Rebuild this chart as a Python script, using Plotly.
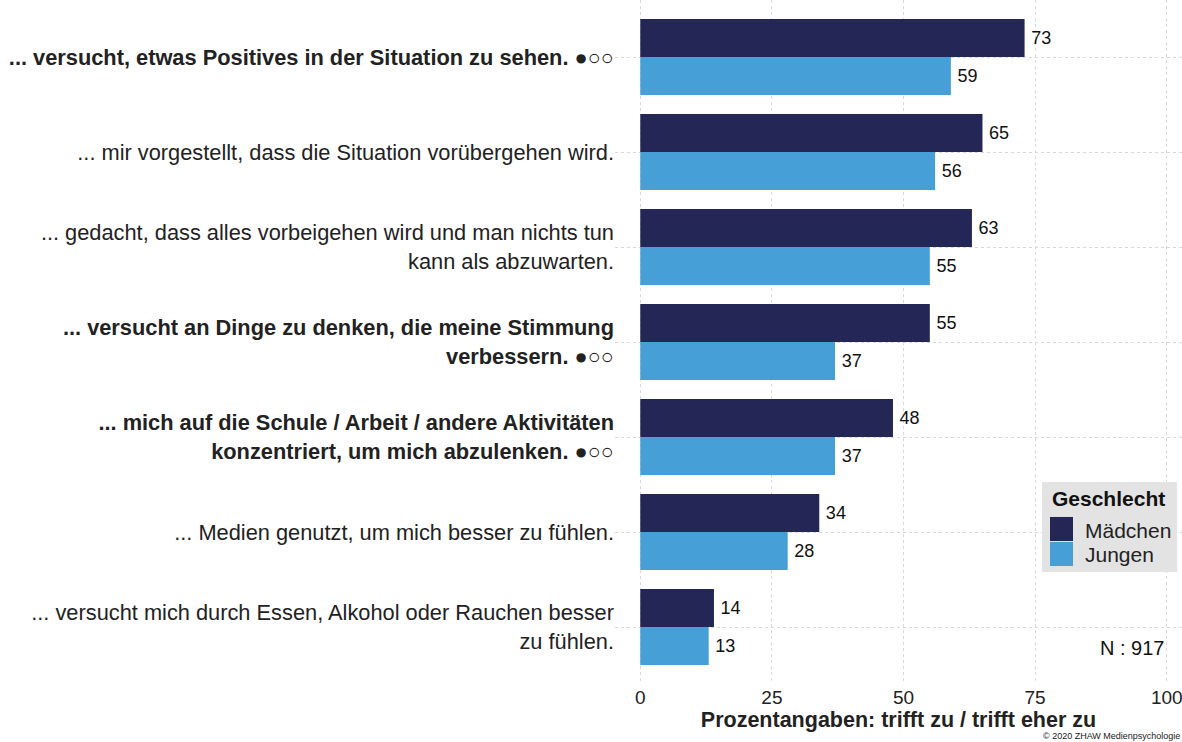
import plotly.graph_objects as go

categories = ["k1", "k2", "k3", "k4", "k5", "k6", "k7"]
tick_labels = [
    "<b>... versucht, etwas Positives in der Situation zu sehen. ●○○</b>",
    "... mir vorgestellt, dass die Situation vorübergehen wird.",
    "... gedacht, dass alles vorbeigehen wird und man nichts tun<br>kann als abzuwarten.",
    "<b>... versucht an Dinge zu denken, die meine Stimmung<br>verbessern. ●○○</b>",
    "<b>... mich auf die Schule / Arbeit / andere Aktivitäten<br>konzentriert, um mich abzulenken. ●○○</b>",
    "... Medien genutzt, um mich besser zu fühlen.",
    "... versucht mich durch Essen, Alkohol oder Rauchen besser<br>zu fühlen.",
]
maedchen = [73, 65, 63, 55, 48, 34, 14]
jungen = [59, 56, 55, 37, 37, 28, 13]
x_ticks = [0, 25, 50, 75, 100]
series_names = ["Mädchen", "Jungen"]
series_colors = ["#242656", "#469FD7"]

FONT = "Liberation Sans, Arial, sans-serif"
GRID = "#D8D8D8"

fig = go.Figure()
for name, vals, col in zip(series_names, [maedchen, jungen], series_colors):
    fig.add_trace(go.Bar(
        name=name, y=categories, x=vals, orientation="h",
        marker=dict(color=col, line=dict(width=0)),
        text=vals, texttemplate="\u2009%{x}", textposition="outside", cliponaxis=False,
        textfont=dict(size=18, color="#111111", family=FONT),
        showlegend=False,
    ))

fig.update_layout(
    width=1182, height=742,
    margin=dict(l=615, r=0, t=0, b=58),
    paper_bgcolor="white", plot_bgcolor="white",
    barmode="group", bargap=0.2, bargroupgap=0,
    font=dict(family=FONT, size=21, color="#222222"),
    showlegend=False,
    xaxis=dict(
        range=[-4.8, 102.9], tickvals=x_ticks, showgrid=True,
        gridcolor=GRID, griddash="dot", gridwidth=1,
        zeroline=False, showline=False, ticks="",
        ticklabeloverflow="allow",
        tickfont=dict(size=19, color="#222222"),
        title=dict(text="<b>Prozentangaben: trifft zu / trifft eher zu</b>",
                   font=dict(size=21.5, color="#222222"), standoff=0),
    ),
    yaxis=dict(
        range=[6.6, -0.6], tickvals=categories, ticktext=tick_labels,
        showgrid=True, gridcolor=GRID, griddash="dot", gridwidth=1,
        zeroline=False, showline=False, ticks="",
        tickfont=dict(size=21.8, color="#222222"),
    ),
)

# Legend box (drawn manually to mimic large square keys)
fig.add_shape(type="rect", xref="paper", yref="paper",
              x0=0.7531, x1=0.9912, y0=0.1637, y1=0.2953,
              fillcolor="#E3E3E3", line=dict(width=0), layer="above")
fig.add_annotation(text="<b>Geschlecht</b>", xref="paper", yref="paper",
                   x=0.7672, y=0.2705, xanchor="left", yanchor="middle",
                   showarrow=False, font=dict(size=21, color="#111111"))
swatch_y = [(0.2091, 0.2442), (0.1725, 0.2076)]
label_y = [0.2237, 0.1886]
for name, col, (y0, y1), ly in zip(series_names, series_colors, swatch_y, label_y):
    fig.add_shape(type="rect", xref="paper", yref="paper",
                  x0=0.7672, x1=0.8078, y0=y0, y1=y1,
                  fillcolor=col, line=dict(width=0), layer="above")
    fig.add_annotation(text=name, xref="paper", yref="paper",
                       x=0.8254, y=ly, xanchor="left", yanchor="middle",
                       showarrow=False, font=dict(size=21, color="#222222"))

fig.add_annotation(
    text="N : 917", xref="paper", yref="paper", x=0.972, y=0.053,
    xanchor="right", yanchor="middle", showarrow=False,
    font=dict(size=20, color="#111111"),
)
fig.add_annotation(
    text="© 2020 ZHAW Medienpsychologie", xref="paper", yref="paper",
    x=1.0, y=-0.0865, xanchor="right", yanchor="bottom", showarrow=False,
    font=dict(size=9, color="#222222"),
)

fig.write_html("out.html")
